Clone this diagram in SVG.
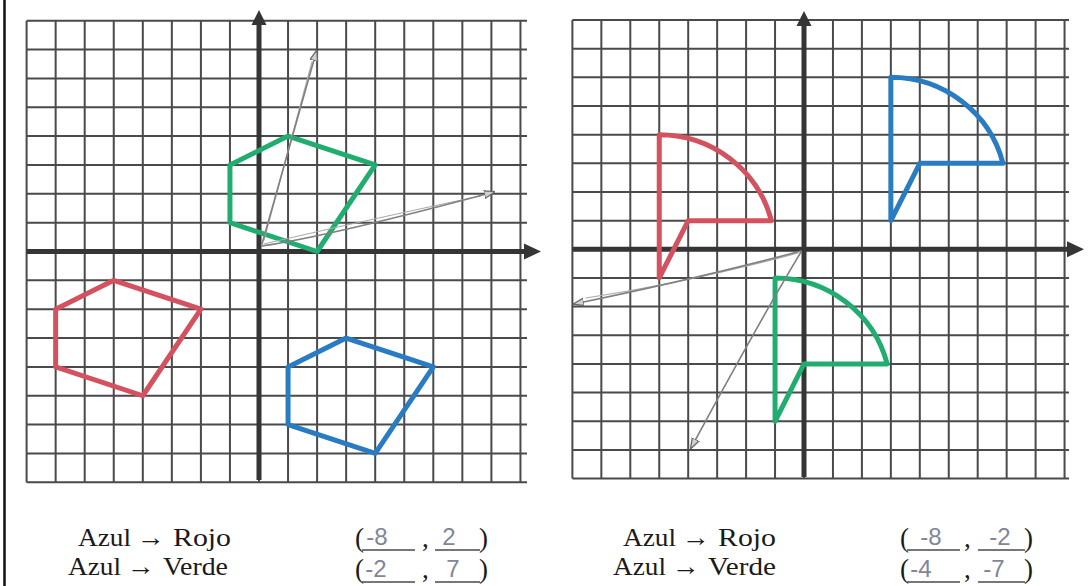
<svg xmlns="http://www.w3.org/2000/svg" width="1090" height="586" viewBox="0 0 1090 586">
<style>
.grid{fill:none;stroke:#4a4a4a;stroke-width:2}
.axis{fill:none;stroke:#353535;stroke-width:5}
.ahead{fill:#353535}
.shape{fill:none;stroke-width:5;stroke-linejoin:round;stroke-linecap:round}
.red{stroke:#d4515f}
.green{stroke:#22ad70}
.blue{stroke:#2a7cc2}
.pen{fill:none;stroke:#808080;stroke-width:1.6;stroke-linecap:round}
.pen2{fill:none;stroke:#ababab;stroke-width:1.2;stroke-linecap:round}
.lbl{font-family:"Liberation Serif","Times New Roman",serif;font-size:26px;fill:#1a1a1a}
.par{font-family:"Liberation Serif","Times New Roman",serif;font-size:27px;fill:#1a1a1a}
.hw{font-family:"Liberation Sans",Arial,sans-serif;font-size:24px;fill:#7f8699;text-anchor:middle}
.blank{stroke:#4a4a4a;stroke-width:1.5}
</style>
<defs>
<marker id="penhead" viewBox="0 0 10 10" refX="9" refY="5" markerWidth="11" markerHeight="11" markerUnits="userSpaceOnUse" orient="auto">
<path d="M0,1.5 L10,5 L0,8.5 Z" fill="#d0d0d0" stroke="#6a6a6a" stroke-width="1.2"/>
</marker>
</defs>
<rect width="1090" height="586" fill="#ffffff"/>
<line x1="4.5" y1="0" x2="4.5" y2="586" stroke="#111" stroke-width="2.5"/>

<g id="grid-left">
<path class="grid" d="M26.6 20.7V482.3M55.65 20.7V482.3M84.7 20.7V482.3M113.75 20.7V482.3M142.8 20.7V482.3M171.85 20.7V482.3M200.9 20.7V482.3M229.95 20.7V482.3M259 20.7V482.3M288.05 20.7V482.3M317.1 20.7V482.3M346.15 20.7V482.3M375.2 20.7V482.3M404.25 20.7V482.3M433.3 20.7V482.3M462.35 20.7V482.3M491.4 20.7V482.3M520.45 20.7V482.3
M26.6 20.7H527M26.6 49.55H527M26.6 78.4H527M26.6 107.25H527M26.6 136.1H527M26.6 164.95H527M26.6 193.8H527M26.6 222.65H527M26.6 251.5H527M26.6 280.35H527M26.6 309.2H527M26.6 338.05H527M26.6 366.9H527M26.6 395.75H527M26.6 424.6H527M26.6 453.45H527M26.6 482.3H527"/>
</g>
<g id="axes-left">
<path class="axis" d="M26.6 251.5H525M259 480V24"/>
<polygon class="ahead" points="524,243.5 541,251.5 524,259.5"/>
<polygon class="ahead" points="251.5,25 259,10 266.5,25"/>
</g>
<g id="pentagon-red">
<polygon class="shape red" points="55.65,309.2 113.75,280.35 200.9,309.2 142.8,395.75 55.65,366.9"/>
</g>
<g id="pentagon-green">
<polygon class="shape green" points="229.95,164.95 288.05,136.1 375.2,164.95 317.1,251.5 229.95,222.65"/>
</g>
<g id="pentagon-blue">
<polygon class="shape blue" points="288.05,366.9 346.15,338.05 433.3,366.9 375.2,453.45 288.05,424.6"/>
</g>

<g id="grid-right">
<path class="grid" d="M572.4 20V478.6M601.35 20V478.6M630.3 20V478.6M659.25 20V478.6M688.2 20V478.6M717.15 20V478.6M746.1 20V478.6M775.05 20V478.6M804 20V478.6M832.95 20V478.6M861.9 20V478.6M890.85 20V478.6M919.8 20V478.6M948.75 20V478.6M977.7 20V478.6M1006.65 20V478.6M1035.6 20V478.6M1064.55 20V478.6
M572.4 20H1069M572.4 48.68H1069M572.4 77.34H1069M572.4 106H1069M572.4 134.66H1069M572.4 163.32H1069M572.4 191.98H1069M572.4 220.64H1069M572.4 249.3H1069M572.4 277.96H1069M572.4 306.62H1069M572.4 335.28H1069M572.4 363.94H1069M572.4 392.6H1069M572.4 421.26H1069M572.4 449.92H1069M572.4 478.6H1069"/>
</g>
<g id="axes-right">
<path class="axis" d="M572.4 249.3H1068M804 477V25"/>
<polygon class="ahead" points="1067,241.3 1084,249.3 1067,257.3"/>
<polygon class="ahead" points="796.5,26 804,11 811.5,26"/>
</g>
<g id="quarter-red">
<path class="shape red" d="M659.25 134.66A115.8 114.64 0 0 1 771.37 220.64H688.2L659.25 277.96Z"/>
</g>
<g id="quarter-blue">
<path class="shape blue" d="M890.85 77.34A115.8 114.64 0 0 1 1002.97 163.32H919.8L890.85 220.64Z"/>
</g>
<g id="quarter-green">
<path class="shape green" d="M775.05 277.96A115.8 114.64 0 0 1 887.17 363.94H804L775.05 421.26Z"/>
</g>

<g id="connectors">
<path class="pen2" d="M264 240 L312 62"/>
<path class="pen" d="M262 244 L316.5 51" marker-end="url(#penhead)"/>
<path class="pen2" d="M264 244 Q340 226 480 196"/>
<path class="pen" d="M262 246 Q330 236 494 192" marker-end="url(#penhead)"/>
<path class="pen2" d="M798 253 Q690 282 586 298"/>
<path class="pen" d="M801 251 Q700 278 574 304" marker-end="url(#penhead)"/>
<path class="pen" d="M801 252 Q760 320 691 448" marker-end="url(#penhead)"/>
</g>

<g id="labels-left">
<text class="lbl" y="546"><tspan x="78" textLength="53" lengthAdjust="spacingAndGlyphs">Azul</tspan><tspan x="137" textLength="28" lengthAdjust="spacingAndGlyphs">→</tspan><tspan x="173" textLength="58" lengthAdjust="spacingAndGlyphs">Rojo</tspan></text>
<text class="lbl" y="575"><tspan x="68" textLength="53" lengthAdjust="spacingAndGlyphs">Azul</tspan><tspan x="127" textLength="28" lengthAdjust="spacingAndGlyphs">→</tspan><tspan x="163" textLength="65" lengthAdjust="spacingAndGlyphs">Verde</tspan></text>
<text class="par" x="355" y="547">(</text>
<text class="par" x="422" y="547">,</text>
<text class="par" x="479" y="547">)</text>
<line class="blank" x1="362" y1="550" x2="415" y2="550"/>
<line class="blank" x1="435" y1="550" x2="480" y2="550"/>
<text class="hw" x="377" y="545">-8</text>
<text class="hw" x="449" y="545">2</text>
<text class="par" x="355" y="578">(</text>
<text class="par" x="422" y="578">,</text>
<text class="par" x="479" y="578">)</text>
<line class="blank" x1="362" y1="582" x2="415" y2="582"/>
<line class="blank" x1="435" y1="582" x2="480" y2="582"/>
<text class="hw" x="376" y="577">-2</text>
<text class="hw" x="453" y="577">7</text>
</g>
<g id="labels-right">
<text class="lbl" y="546"><tspan x="623" textLength="53" lengthAdjust="spacingAndGlyphs">Azul</tspan><tspan x="682" textLength="28" lengthAdjust="spacingAndGlyphs">→</tspan><tspan x="718" textLength="58" lengthAdjust="spacingAndGlyphs">Rojo</tspan></text>
<text class="lbl" y="575"><tspan x="613" textLength="53" lengthAdjust="spacingAndGlyphs">Azul</tspan><tspan x="672" textLength="28" lengthAdjust="spacingAndGlyphs">→</tspan><tspan x="708" textLength="68" lengthAdjust="spacingAndGlyphs">Verde</tspan></text>
<text class="par" x="900" y="547">(</text>
<text class="par" x="964" y="547">,</text>
<text class="par" x="1024" y="547">)</text>
<line class="blank" x1="907" y1="550" x2="960" y2="550"/>
<line class="blank" x1="978" y1="550" x2="1025" y2="550"/>
<text class="hw" x="931" y="545">-8</text>
<text class="hw" x="1000" y="545">-2</text>
<text class="par" x="900" y="578">(</text>
<text class="par" x="964" y="578">,</text>
<text class="par" x="1024" y="578">)</text>
<line class="blank" x1="907" y1="582" x2="960" y2="582"/>
<line class="blank" x1="978" y1="582" x2="1025" y2="582"/>
<text class="hw" x="921" y="577">-4</text>
<text class="hw" x="994" y="577">-7</text>
</g>
</svg>
